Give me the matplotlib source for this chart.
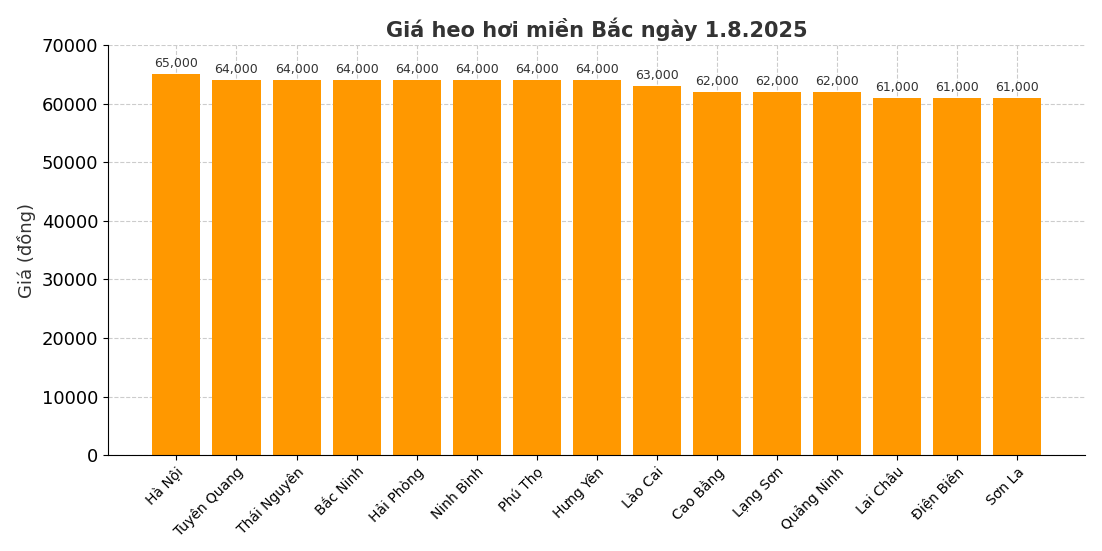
import matplotlib
matplotlib.use("Agg")
import matplotlib.pyplot as plt

provinces = ["Hà Nội", "Tuyên Quang", "Thái Nguyên", "Bắc Ninh", "Hải Phòng", "Ninh Bình",
             "Phú Thọ", "Hưng Yên", "Lào Cai", "Cao Bằng", "Lạng Sơn", "Quảng Ninh",
             "Lai Châu", "Điện Biên", "Sơn La"]
prices = [65000, 64000, 64000, 64000, 64000, 64000, 64000, 64000, 63000, 62000, 62000, 62000,
          61000, 61000, 61000]

fig = plt.figure(figsize=(11.02, 5.51), dpi=100)
ax = fig.add_axes([0.098, 0.174, 0.887, 0.744])
bars = ax.bar(provinces, prices, color="#FF9800", width=0.8, zorder=2)
for b, v in zip(bars, prices):
    ax.text(b.get_x() + b.get_width() / 2, v + 700, f"{v:,}", ha="center", va="bottom",
            fontsize=9, color="#333333")
ax.set_ylim(0, 70000)
ax.set_title("Giá heo hơi miền Bắc ngày 1.8.2025", fontsize=15, fontweight="bold", color="#333333")
ax.set_ylabel("Giá (đồng)", fontsize=13, color="#333333")
ax.tick_params(axis="y", labelsize=13)
ax.tick_params(axis="x", labelsize=10)
plt.setp(ax.get_xticklabels(), rotation=45, ha="right", rotation_mode="anchor")
ax.grid(True, linestyle="--", color="#cccccc", linewidth=0.8, zorder=0)
ax.spines["top"].set_visible(False)
ax.spines["right"].set_visible(False)
fig.savefig("out.png", dpi=100)
